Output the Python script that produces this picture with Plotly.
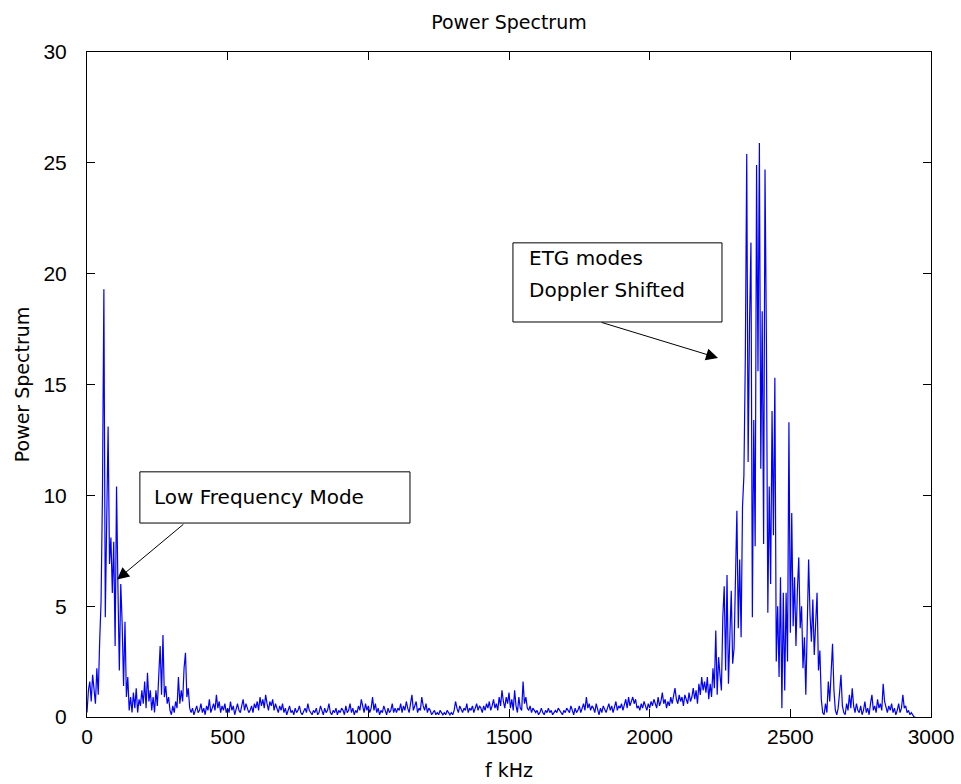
import plotly.graph_objects as go

# frequency step of the spectrum (kHz)
freq_step_khz = 5

# power spectrum values, one per 5 kHz bin starting at 0 kHz (rows = 100 kHz)
power = [
    0.2, 1.2, 1.6, 0.7, 1.9, 1.3, 0.6, 2.2, 1.0, 3.4, 5.2, 10.1, 19.3, 4.5, 9.8, 13.1, 6.9, 8.1, 5.6, 7.9,
    3.2, 10.4, 5.8, 2.1, 6.0, 4.2, 1.4, 4.3, 0.9, 1.8, 0.3, 0.9, 0.2, 1.1, 0.4, 1.3, 0.2, 0.8, 0.5, 1.2,
    0.6, 1.6, 0.4, 2.0, 0.7, 1.2, 0.3, 0.9, 0.2, 1.2, 0.5, 1.7, 3.2, 1.0, 3.7, 0.9, 1.4, 0.6, 0.9, 0.3,
    0.1, 0.5, 0.2, 0.7, 0.4, 1.8, 0.6, 1.2, 0.7, 2.2, 2.9, 0.9, 1.3, 0.4, 0.2, 0.4, 0.1, 0.3, 0.5, 0.2,
    0.3, 0.6, 0.2, 0.4, 0.1, 0.5, 0.3, 0.8, 0.2, 0.4, 0.6, 0.3, 1.0, 0.4, 0.7, 0.2, 0.5, 0.3, 0.6, 0.2,
    0.4, 0.2, 0.7, 0.3, 0.5, 0.1, 0.4, 0.6, 0.3, 0.2, 0.5, 0.8, 0.3, 0.6, 0.4, 0.2, 0.3, 0.5, 0.2, 0.6,
    0.4, 0.7, 0.3, 0.9, 0.5, 0.8, 0.4, 1.0, 0.6, 0.3, 0.7, 0.5, 0.8, 0.3, 0.6, 0.4, 0.2, 0.5, 0.3, 0.6,
    0.2, 0.4, 0.1, 0.3, 0.5, 0.2, 0.3, 0.1, 0.4, 0.2, 0.3, 0.5, 0.2, 0.1, 0.3, 0.4, 0.2, 0.6, 0.3, 0.2,
    0.1, 0.3, 0.2, 0.4, 0.1, 0.2, 0.5, 0.3, 0.1, 0.4, 0.2, 0.3, 0.6, 0.2, 0.1, 0.3, 0.2, 0.4, 0.1, 0.3,
    0.2, 0.4, 0.3, 0.1, 0.5, 0.2, 0.3, 0.6, 0.2, 0.4, 0.1, 0.3, 0.2, 0.5, 0.3, 0.8, 0.4, 0.2, 0.6, 0.3,
    0.5, 0.2, 0.4, 0.9, 0.3, 0.6, 0.2, 0.4, 0.1, 0.3, 0.2, 0.5, 0.3, 0.1, 0.4, 0.2, 0.3, 0.6, 0.2, 0.4,
    0.2, 0.4, 0.3, 0.6, 0.2, 0.5, 0.3, 0.7, 0.4, 0.2, 0.6, 1.0, 0.3, 0.5, 0.7, 0.2, 0.4, 0.3, 0.9, 0.5,
    0.3, 0.6, 0.2, 0.4, 0.3, 0.1, 0.2, 0.3, 0.1, 0.2, 0.1, 0.3, 0.2, 0.1, 0.2, 0.1, 0.3, 0.2, 0.1, 0.2,
    0.1, 0.3, 0.7, 0.4, 0.2, 0.5, 0.3, 0.2, 0.4, 0.3, 0.6, 0.2, 0.4, 0.3, 0.5, 0.2, 0.4, 0.6, 0.3, 0.5,
    0.4, 0.2, 0.5, 0.3, 0.6, 0.4, 0.7, 0.3, 0.5, 0.8, 0.4, 0.6, 0.3, 0.9, 0.5, 1.2, 0.7, 0.4, 0.9, 0.6,
    1.1, 0.4, 0.8, 0.3, 1.2, 0.5, 0.2, 0.9, 0.4, 0.3, 1.6, 0.6, 0.9, 0.4, 0.3, 0.5, 0.2, 0.4, 0.3, 0.2,
    0.3, 0.1, 0.2, 0.4, 0.2, 0.1, 0.3, 0.2, 0.4, 0.2, 0.3, 0.1, 0.2, 0.3, 0.2, 0.4, 0.3, 0.2, 0.1, 0.3,
    0.2, 0.4, 0.3, 0.2, 0.5, 0.3, 0.1, 0.4, 0.2, 0.3, 0.5, 0.2, 0.4, 0.6, 0.3, 0.9, 0.4, 0.6, 0.3, 0.5,
    0.4, 0.2, 0.6, 0.3, 0.1, 0.4, 0.2, 0.5, 0.3, 0.2, 0.4, 0.6, 0.3, 0.5, 0.2, 0.4, 0.7, 0.3, 0.5, 0.4,
    0.6, 0.3, 0.5, 0.8, 0.4, 0.9, 0.5, 0.7, 0.9, 0.6, 0.8, 0.4, 0.5, 0.3, 0.6, 0.4, 0.7, 0.5, 0.3, 0.6,
    0.4, 0.7, 0.5, 0.8, 0.6, 0.4, 0.9, 0.5, 0.7, 1.1, 0.6, 0.8, 0.4, 0.7, 0.5, 0.9, 0.6, 1.0, 1.3, 0.8,
    0.6, 1.0, 0.7, 0.9, 0.5, 1.0, 0.8, 0.6, 1.1, 0.7, 0.9, 1.3, 0.8, 1.2, 0.6, 1.5, 1.0, 1.8, 1.2, 1.6,
    1.1, 1.8, 0.8, 1.5, 0.9, 2.2, 1.3, 3.9, 1.0, 2.7, 1.9, 1.2, 4.5, 5.9, 2.1, 6.4, 1.5, 3.3, 5.7, 2.4,
    3.1, 6.2, 9.3, 4.0, 7.1, 3.6, 9.5, 10.9, 16.2, 25.4, 11.5, 17.8, 21.4, 4.5, 13.4, 7.7, 24.9, 15.6, 25.9, 11.2,
    18.3, 7.8, 24.7, 16.9, 4.7, 10.4, 6.0, 13.8, 8.2, 15.3, 2.5, 5.0, 1.8, 6.3, 0.4, 5.6, 1.2, 5.6, 2.5, 13.3,
    3.8, 9.2, 4.1, 6.3, 3.2, 5.7, 7.2, 4.0, 5.0, 2.2, 3.6, 1.0, 4.3, 7.1, 4.6, 3.4, 5.3, 2.8, 4.2, 5.6,
    2.1, 3.0, 0.8, 0.2, 0.1, 0.6, 0.2, 1.6, 0.7, 2.2, 3.3, 1.2, 0.3, 0.1, 0.4, 1.1, 1.9, 0.5, 0.2, 0.1,
    0.6, 0.3, 1.0, 0.4, 1.3, 0.5, 0.2, 0.6, 0.3, 0.2, 0.5, 0.1, 0.3, 0.7, 0.2, 0.4, 0.1, 0.6, 1.0, 0.3,
    0.5, 0.2, 0.8, 0.4, 0.6, 0.3, 1.5, 0.7, 0.4, 0.2, 0.5, 0.3, 0.6, 0.2, 0.4, 0.1, 0.3, 0.6, 0.2, 0.4,
    1.0, 0.4, 0.5, 0.2, 0.3, 0.1, 0.2, 0.1, 0.0, 0.0,
]
freq = [i * freq_step_khz for i in range(len(power))]

x_ticks = [0, 500, 1000, 1500, 2000, 2500, 3000]
y_ticks = [0, 5, 10, 15, 20, 25, 30]

title_text = "Power Spectrum"
x_label = "f kHz"
y_label = "Power Spectrum"
note_low = "Low Frequency Mode"
note_etg_lines = ["ETG modes", "Doppler Shifted"]

TICK_FONT = "Liberation Sans, Arial, sans-serif"
TEXT_FONT = "DejaVu Sans, Liberation Sans, sans-serif"

fig = go.Figure()
fig.add_trace(go.Scatter(
    x=freq, y=power, mode="lines",
    line=dict(color="#0000FF", width=1.2),
    hoverinfo="x+y", showlegend=False,
))

axis_common = dict(
    showgrid=False, zeroline=False, showline=True, linecolor="black", linewidth=1,
    mirror="ticks", ticks="inside", ticklen=8, tickcolor="black", tickwidth=1,
    tickfont=dict(family=TICK_FONT, size=21, color="black"),
    automargin=False,
)

fig.update_layout(
    width=961, height=784,
    margin=dict(l=87, r=30, t=52, b=67),
    paper_bgcolor="white", plot_bgcolor="white",
    font=dict(family=TEXT_FONT, color="black"),
    title=dict(text=title_text, x=0.5296, xanchor="center", y=0.972, yanchor="middle",
               font=dict(family=TEXT_FONT, size=19, color="black")),
    xaxis=dict(range=[0, 3000], tickvals=x_ticks, ticktext=[str(v) for v in x_ticks],
               ticklabelstandoff=1,
               title=dict(text=x_label, standoff=16, font=dict(family=TEXT_FONT, size=19)),
               **axis_common),
    yaxis=dict(range=[0, 30], tickvals=y_ticks, ticktext=[str(v) for v in y_ticks],
               ticklabelstandoff=15,
               title=dict(text=y_label, standoff=8, font=dict(family=TEXT_FONT, size=19)),
               **axis_common),
)

# annotation boxes
fig.add_shape(type="rect", xref="x", yref="y", x0=188, x1=1148, y0=8.75, y1=11.06,
              line=dict(color="black", width=1), fillcolor="white", layer="above")
fig.add_shape(type="rect", xref="x", yref="y", x0=1514, x1=2257, y0=17.82, y1=21.39,
              line=dict(color="black", width=1), fillcolor="white", layer="above")

text_font = dict(family=TEXT_FONT, size=20, color="black")
fig.add_annotation(x=231, y=9.93, xref="x", yref="y", text=note_low, showarrow=False,
                   xanchor="left", yanchor="middle", font=text_font)
fig.add_annotation(x=1564, y=20.71, xref="x", yref="y", text=note_etg_lines[0], showarrow=False,
                   xanchor="left", yanchor="middle", font=text_font)
fig.add_annotation(x=1564, y=19.27, xref="x", yref="y", text=note_etg_lines[1], showarrow=False,
                   xanchor="left", yanchor="middle", font=text_font)

# arrows
fig.add_annotation(x=107, y=6.2, ax=348, ay=8.75, xref="x", yref="y", axref="x", ayref="y",
                   text="", showarrow=True, arrowhead=2, arrowsize=2.4, arrowwidth=1,
                   arrowcolor="black")
fig.add_annotation(x=2243, y=16.2, ax=1824, ay=17.82, xref="x", yref="y", axref="x", ayref="y",
                   text="", showarrow=True, arrowhead=2, arrowsize=2.4, arrowwidth=1,
                   arrowcolor="black")

fig.write_html("out.html")
